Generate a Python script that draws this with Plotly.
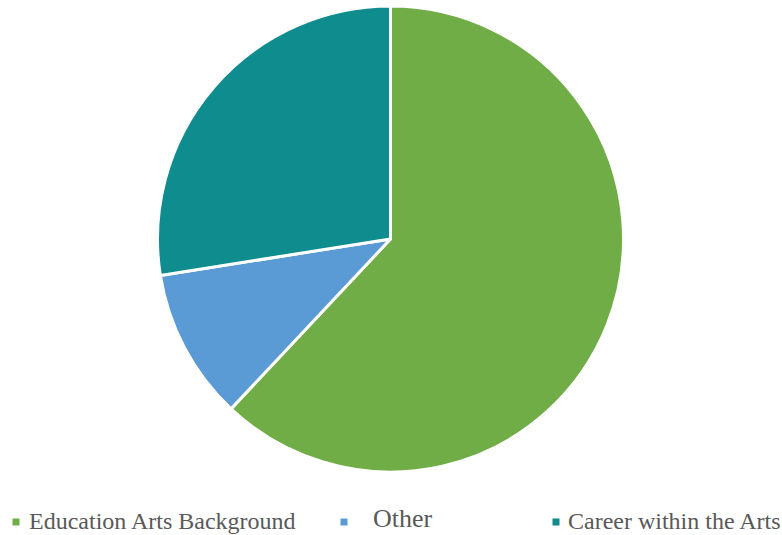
import plotly.graph_objects as go

labels = ["Education Arts Background", "Other", "Career within the Arts"]
values = [62, 10.5, 27.5]
colors = ["#70AD47", "#5B9BD5", "#0E8C8E"]

W, H = 782, 535
FONT = "'Times New Roman', Times, 'Liberation Serif', 'DejaVu Serif', serif"

fig = go.Figure(go.Pie(
    labels=labels, values=values, sort=False, direction="clockwise", rotation=0,
    marker=dict(colors=colors, line=dict(color="white", width=3)),
    textinfo="none", hoverinfo="label+percent", showlegend=False,
    domain=dict(x=[157 / W, 624 / W], y=[1 - 472 / H, 1 - 6 / H]),
))

# legend drawn as small squares + text
sq_x = [16, 344, 556]
txt_x = [27, 371, 566]
txt_size = [24, 26, 24]
txt_y = [521, 518, 521]
sq_y = [522, 522, 522]
shapes = []
annotations = []
for lab, col, sx, tx, ts, ty, sy in zip(labels, colors, sq_x, txt_x, txt_size, txt_y, sq_y):
    shapes.append(dict(type="rect", xref="paper", yref="paper",
                       x0=(sx - 3.5) / W, x1=(sx + 3.5) / W,
                       y0=1 - (sy + 3.5) / H, y1=1 - (sy - 3.5) / H,
                       fillcolor=col, line=dict(width=0)))
    annotations.append(dict(text=lab, xref="paper", yref="paper", x=tx / W, y=1 - ty / H,
                            xanchor="left", yanchor="middle", showarrow=False,
                            font=dict(family=FONT, size=ts, color="#595959")))

fig.update_layout(
    width=W, height=H, margin=dict(l=0, r=0, t=0, b=0),
    paper_bgcolor="white", plot_bgcolor="white",
    font=dict(family=FONT),
    shapes=shapes, annotations=annotations,
)
fig.write_html("out.html")
